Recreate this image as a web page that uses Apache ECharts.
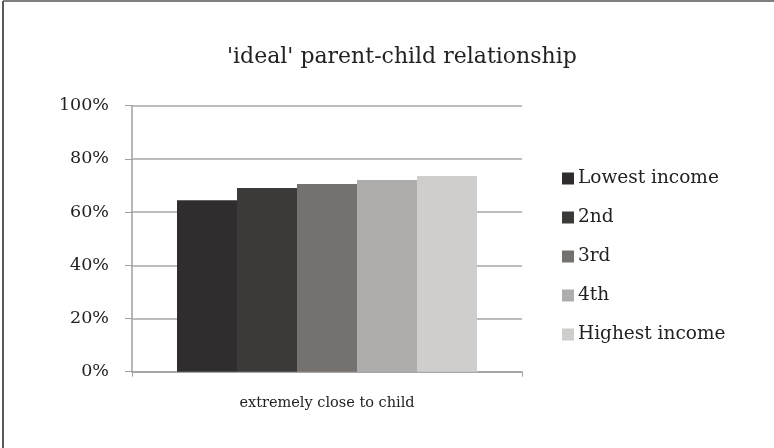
<!DOCTYPE html>
<html><head><meta charset="utf-8">
<script src="https://cdn.jsdelivr.net/npm/echarts@6/dist/echarts.min.js"></script>
<style>html,body{margin:0;padding:0;background:#fff}#c{width:774px;height:448px}</style>
</head><body><div id="c"></div>
<script>
const categories = ['extremely close to child'];
const seriesNames = ['Lowest income', '2nd', '3rd', '4th', 'Highest income'];
const seriesValues = [[64.5], [69.1], [70.6], [72.1], [73.6]];
const yTicks = [0, 20, 40, 60, 80, 100];
const colors = ['#2f2d2e', '#3b3a38', '#75716f', '#aeadab', '#cfcecc'];
const font = 'DejaVu Serif';

const chart = echarts.init(document.getElementById('c'), null, {renderer: 'canvas'});
chart.setOption({
  animation: false,
  backgroundColor: '#fff',
  color: colors,
  title: {
    text: "'ideal' parent-child relationship",
    left: 227, top: 46, padding: 0,
    textStyle: {fontFamily: font, fontSize: 22, fontWeight: 'normal', color: '#222'}
  },
  legend: {
    orient: 'vertical', left: 562, top: 169, padding: 0,
    itemWidth: 12, itemHeight: 12, itemGap: 20, icon: 'rect',
    textStyle: {fontFamily: font, fontSize: 18.5, color: '#222', padding: [0,0,0,-1]},
    data: seriesNames
  },
  grid: {left: 132, right: 252, top: 105.7, bottom: 76.3, containLabel: false},
  xAxis: {
    type: 'category', data: categories,
    axisLine: {lineStyle: {color: '#a0a0a4', width: 1.5}},
    axisTick: {show: true, length: 5, lineStyle: {color: '#a0a0a4'}},
    axisLabel: {fontFamily: font, fontSize: 14.5, color: '#222', margin: 24}
  },
  yAxis: {
    type: 'value', min: 0, max: 100, interval: 20,
    axisLine: {show: true, lineStyle: {color: '#a0a0a4', width: 1.5}},
    axisTick: {show: true, length: 7, lineStyle: {color: '#a0a0a4'}},
    splitLine: {lineStyle: {color: '#a6a6a8', width: 1.5}},
    axisLabel: {fontFamily: font, fontSize: 17.5, color: '#222', margin: 23,
      formatter: v => yTicks.includes(v) ? v + '%' : ''}
  },
  series: seriesNames.map((n, i) => ({
    name: n, type: 'bar', data: seriesValues[i], barWidth: 60, barGap: '0%'
  })),
  graphic: [
    {type: 'line', shape: {x1: 3, y1: 1, x2: 3, y2: 448}, style: {stroke: '#222', lineWidth: 1.5}},
    {type: 'line', shape: {x1: 3, y1: 1, x2: 774, y2: 1}, style: {stroke: '#555', lineWidth: 1.5}}
  ]
});
</script></body></html>
